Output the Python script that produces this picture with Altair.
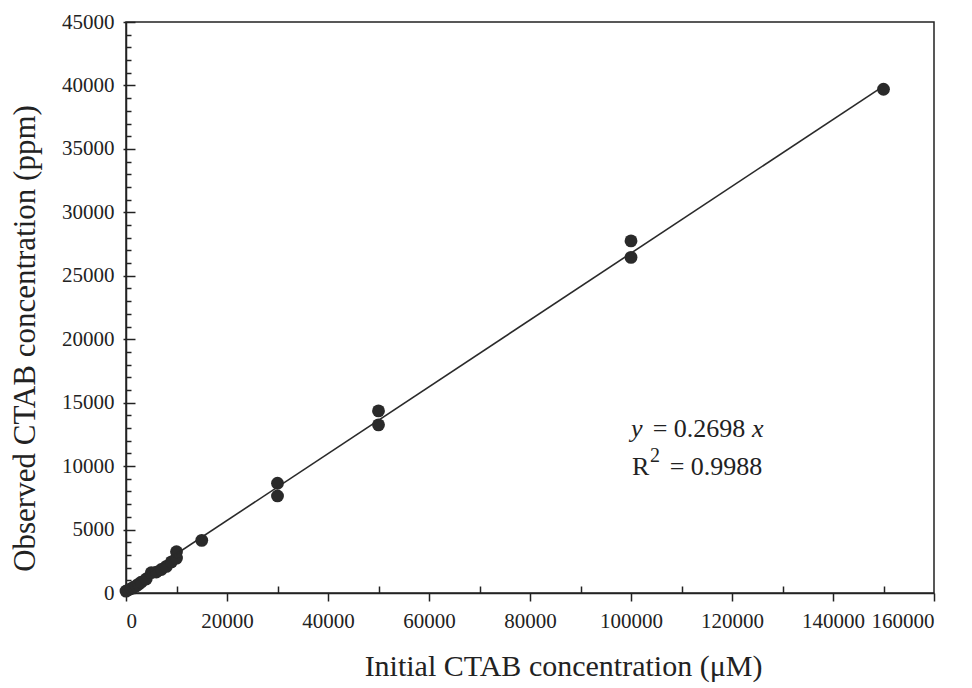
import altair as alt
import pandas as pd

# ---- data ----
x_initial = [0, 500, 1000, 1500, 2000, 2500, 3000, 4000, 5000, 6000, 7000, 8000,
             9000, 10000, 10000, 15000, 30000, 30000, 50000, 50000,
             100000, 100000, 150000]
y_observed = [150, 250, 350, 450, 550, 700, 850, 1100, 1600, 1650, 1850, 2100,
              2450, 2750, 3250, 4150, 8650, 7650, 14350, 13250,
              27750, 26450, 39700]
# fitted line as drawn in the picture (end points)
fit_x = [0, 150000]
fit_y = [450, 39950]
SLOPE_TEXT = "0.2698"
R2_TEXT = "0.9988"

x_major = [0, 20000, 40000, 60000, 80000, 100000, 120000, 140000, 160000]
x_minor = [10000, 30000, 50000, 70000, 90000, 110000, 130000, 150000]
y_major = [0, 5000, 10000, 15000, 20000, 25000, 30000, 35000, 40000, 45000]
y_all = list(range(0, 45001, 1000))

df = pd.DataFrame({"x": x_initial, "y": y_observed})
fit = pd.DataFrame({"x": fit_x, "y": fit_y})

FONT = "Liberation Serif"
INK = "#222222"
W, H = 808, 571

xs = alt.Scale(domain=[0, 160000], nice=False, zero=False)
ys = alt.Scale(domain=[0, 45000], nice=False, zero=False)

points = alt.Chart(df).mark_circle(size=165, color="#2a2a2a", opacity=1).encode(
    x=alt.X("x:Q", scale=xs,
            axis=alt.Axis(values=x_major, format="d", grid=False, tickSize=8,
                          tickColor=INK, domainColor=INK, domainWidth=1.5, tickWidth=1.5,
                          labelFont=FONT, labelFontSize=21, labelColor=INK, labelPadding=9,
                          title="Initial CTAB concentration (μM)", titleFont=FONT,
                          titleFontSize=30, titleFontWeight="normal", titleColor=INK,
                          titleX=437, titleY=82, titleBaseline="alphabetic")),
    y=alt.Y("y:Q", scale=ys,
            axis=alt.Axis(values=y_major, format="d", grid=False, tickSize=3,
                          tickColor=INK, domainColor=INK, domainWidth=1.5, tickWidth=1.5,
                          labelFont=FONT, labelFontSize=21, labelColor=INK, labelPadding=9,
                          title="Observed CTAB concentration (ppm)", titleFont=FONT,
                          titleFontSize=31, titleFontWeight="normal", titleColor=INK,
                          titleAngle=-90, titleX=-101, titleY=316,
                          titleAlign="center", titleBaseline="middle")),
)

line = alt.Chart(fit).mark_line(color="#2a2a2a", strokeWidth=1.6).encode(
    x=alt.X("x:Q", scale=xs,
            axis=alt.Axis(orient="top", offset=-H, values=x_minor, labels=False,
                          domain=False, grid=False, title=None, tickSize=7,
                          tickColor=INK, tickWidth=1.5)),
    y=alt.Y("y:Q", scale=ys,
            axis=alt.Axis(orient="right", offset=-W, values=y_all, labels=False,
                          domain=False, grid=False, title=None,
                          tickSize={"condition": {"test": "datum.value % 5000 === 0", "value": 9},
                                    "value": 5},
                          tickColor=INK, tickWidth=1.5)),
)

one = pd.DataFrame({"k": [0]})

def label(text, x, y, size, align="left", style="normal"):
    return alt.Chart(one).mark_text(
        text=text, font=FONT, fontSize=size, fontStyle=style, color=INK,
        align=align, baseline="alphabetic"
    ).encode(x=alt.value(x), y=alt.value(y))

ann = [
    label("y", 505, 415, 26, style="italic"),
    label(f"= {SLOPE_TEXT}", 573, 415, 26, align="center"),
    label("x", 626, 415, 26, style="italic"),
    label("R", 506, 453, 26),
    label("2", 524, 440, 20),
    label(f"= {R2_TEXT}", 590, 453, 26, align="center"),
]

chart = alt.layer(points, line, *ann).resolve_axis(
    x="independent", y="independent"
).properties(
    width=W, height=H,
    autosize=alt.AutoSizeParams(type="none"),
    padding={"left": 118, "top": 14, "right": 25, "bottom": 95},
    background="white",
).configure_view(stroke=INK, strokeWidth=1.5)

chart.save("out.html", embed_options={"renderer": "svg", "actions": False})
